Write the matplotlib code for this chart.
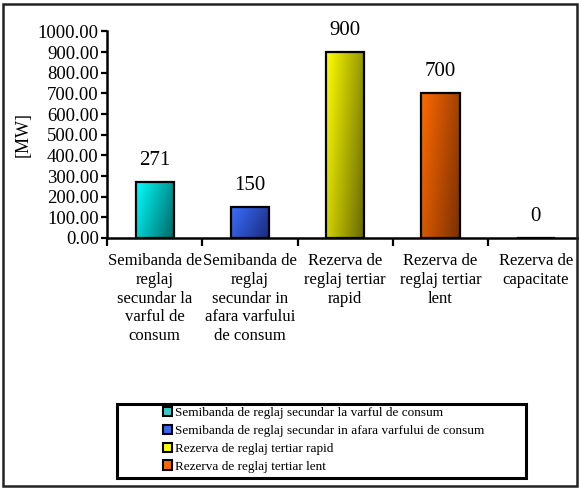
import numpy as np
import matplotlib
matplotlib.use("Agg")
import matplotlib.pyplot as plt
from matplotlib.patches import Rectangle, Patch
from matplotlib.colors import LinearSegmentedColormap

plt.rcParams['font.family'] = ['Liberation Serif', 'DejaVu Serif']

categories = [
    "Semibanda de\nreglaj\nsecundar la\nvarful de\nconsum",
    "Semibanda de\nreglaj\nsecundar in\nafara varfului\nde consum",
    "Rezerva de\nreglaj tertiar\nrapid",
    "Rezerva de\nreglaj tertiar\nlent",
    "Rezerva de\ncapacitate",
]
values = [271, 150, 900, 700, 0]
value_labels = ["271", "150", "900", "700", "0"]
legend_labels = [
    "Semibanda de reglaj secundar la varful de consum",
    "Semibanda de reglaj secundar in afara varfului de consum",
    "Rezerva de reglaj tertiar rapid",
    "Rezerva de reglaj tertiar lent",
]
light_colors = ["#00FFFF", "#3A6EFF", "#FFFF00", "#FF6A00"]
dark_colors = ["#006464", "#1A2A78", "#666600", "#7A3000"]
legend_colors = ["#33CCCC", "#3366FF", "#FFFF00", "#FF6600"]
yticks = [0, 100, 200, 300, 400, 500, 600, 700, 800, 900, 1000]

W, H = 579, 488
fig = plt.figure(figsize=(W / 100, H / 100), dpi=100)

ax = fig.add_axes([107 / W, 1 - 238 / H, (583.5 - 107) / W, (238 - 31.5) / H])
x = np.arange(len(values))
bars = ax.bar(x, values, width=0.4, facecolor='none', edgecolor='black',
              linewidth=1.6, zorder=3)

# gradient fill
nu, nv = 60, 200
u = np.linspace(0, 1, nu)[None, :]
v = np.linspace(0, 1, nv)[:, None]
t = np.clip(0.7 * u + 0.3 * v, 0, 1)  # v=0 at top row
for b, lc, dc in zip(bars, light_colors, dark_colors):
    h = b.get_height()
    if h <= 0:
        b.set_visible(False)
        continue
    cmap = LinearSegmentedColormap.from_list("g", [lc, dc])
    x0 = b.get_x()
    im = ax.imshow(t, cmap=cmap, extent=[x0, x0 + b.get_width(), 0, h],
                   aspect='auto', origin='upper', zorder=2, vmin=0, vmax=1,
                   interpolation='bilinear')
    im.set_clip_path(b)

for xi, v_, lab in zip(x, values, value_labels):
    ax.annotate(lab, (xi, v_), xytext=(0, 15.8), textcoords='offset points',
                ha='center', va='center', fontsize=15)

ax.set_xlim(-0.5, len(values) - 0.5)
ax.set_ylim(0, 1000)
ax.set_yticks(yticks)
ax.set_yticklabels([f"{v:.2f}" for v in yticks], fontsize=13.5)
ax.set_xticks(x)
ax.set_xticklabels(categories, fontsize=12, linespacing=1.22,
                   multialignment='center')
ax.set_xticks(np.arange(len(values) + 1) - 0.5, minor=True)
ax.tick_params(axis='x', which='major', length=0, pad=11)
ax.tick_params(axis='x', which='minor', length=6, width=1.6, direction='out')
ax.tick_params(axis='y', length=4, width=1.6, direction='out', pad=2)
ax.set_ylabel("[MW]", fontsize=13, labelpad=4)
for s in ['top', 'right']:
    ax.spines[s].set_visible(False)
for s in ['left', 'bottom']:
    ax.spines[s].set_linewidth(1.8)
ax.spines['left'].set_zorder(4)
ax.spines['bottom'].set_zorder(4)
ax.patch.set_visible(False)

# outer border
fig.patches.append(Rectangle((3 / W, 2 / H), 574 / W, 482 / H, transform=fig.transFigure,
                             fill=False, edgecolor='#222222', linewidth=1.8))
# legend frame
fig.patches.append(Rectangle((117 / W, 1 - 478 / H), (526 - 117) / W, (478 - 404) / H,
                             transform=fig.transFigure, fill=False,
                             edgecolor='black', linewidth=2.2, zorder=5))

handles = [Patch(facecolor=c, edgecolor='black', linewidth=1.5) for c in legend_colors]
fig.legend(handles, legend_labels, loc='upper left',
           bbox_to_anchor=(163 / W, 1 - 407 / H), frameon=False,
           fontsize=9.5, borderpad=0, borderaxespad=0, handlelength=0.7,
           handleheight=0.7, handletextpad=0.2, labelspacing=0.42)

fig.savefig("out.png", dpi=100)
